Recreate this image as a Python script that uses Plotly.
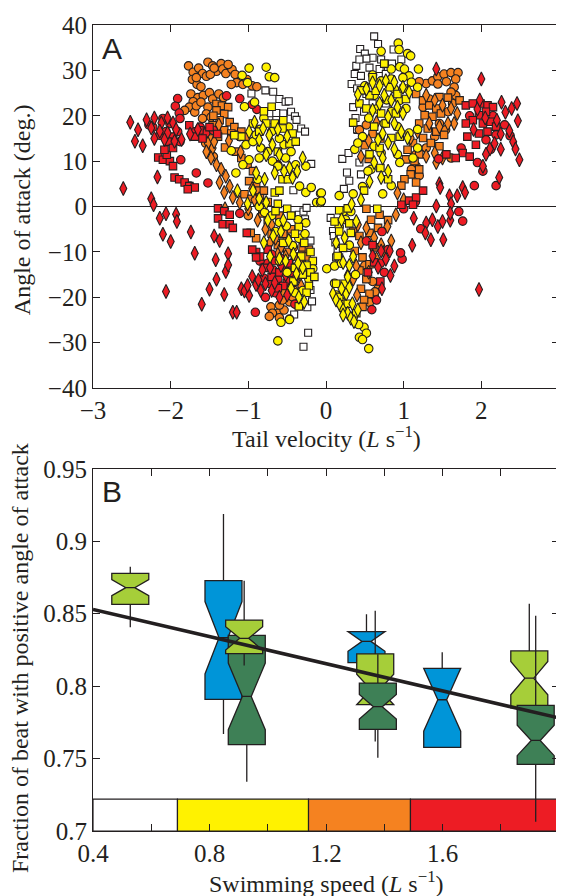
import plotly.graph_objects as go

# ================= Panel A data: (tail velocity [L/s], angle of attack [deg]) =================
W_SQ = [(-0.96,24.9),(-0.78,25.6),(-0.68,25.3),(-0.60,23.7),(-0.52,23.1),(-0.48,23.2),(-0.45,20.9),(-0.40,19.9),
        (-0.38,19.1),(-0.32,17.2),(-0.27,16.5),(-0.19,9.4),(-0.64,20.6),(-0.73,19.0),(-0.55,20.5),(-0.42,3.6),
        (-0.35,-1.8),(-0.29,-1.1),(-0.25,-0.3),(-0.27,-2.8),(-0.24,-22.2),(-0.18,-20.9),(-0.20,-18.4),(-0.23,-27.8),
        (-0.29,-30.9),(-0.41,-23.8),(-0.22,-12.0),(-0.20,-7.5),
        (0.62,37.5),(0.67,35.8),(0.44,34.7),(0.50,33.7),(0.60,32.8),(0.52,32.6),(0.39,31.0),(0.37,29.2),(0.45,28.8),
        (0.43,32.4),(0.56,30.6),(0.71,32.4),(0.87,34.6),(0.97,32.4),(0.80,30.6),(0.69,30.3),(0.77,29.2),(0.52,24.8),
        (0.60,22.7),(0.49,20.9),(0.35,21.9),(0.41,16.9),(0.21,10.5),(0.29,11.8),(0.27,7.5),(0.30,5.7),(0.23,3.9),
        (0.45,7.1),(0.43,9.7),(0.77,22.7),(0.06,-2.5),(0.09,-5.4),(0.10,-6.5),(0.12,-7.9),(0.15,-9.8),(0.13,-11.2),
        (0.30,-9.1),(0.33,27.0),(0.40,26.0),(0.85,31.5),(0.38,19.5),(0.40,17.0),(0.17,-11.2)]

Y_CI = [(-0.99,30.5),(-0.77,30.7),(-1.08,28.9),(-0.73,28.6),(-0.66,28.4),(-1.01,27.3),(-0.92,23.0),(-1.05,22.0),
        (-1.22,12.3),(-1.11,15.4),(-1.03,13.6),(-0.94,14.3),(-0.84,12.9),(-0.75,12.1),(-0.86,10.7),(-0.69,10.0),
        (-0.99,10.3),(-1.07,9.2),(-0.62,8.9),(-0.52,10.7),(-0.39,9.2),(-0.26,8.9),(-0.34,4.5),(-0.26,3.1),(-0.19,4.2),
        (-0.07,2.9),(-0.12,0.9),(-0.07,0.9),(-0.88,6.0),(-1.16,7.4),(-0.54,13.6),(-0.45,12.1),(-0.60,15.0),(-0.86,0.0),
        (-0.79,-1.3),(-0.60,-3.5),(-0.51,-4.3),(-0.36,-2.9),(-0.26,-3.6),(-0.43,-8.6),(-0.17,-13.7),(-0.47,-24.9),
        (-0.62,-29.6),(-0.70,-2.0),(-0.65,-5.5),(-0.35,-7.0),(-0.27,-6.0),(-0.22,-16.0),(-0.30,-18.5),(0.01,-13.7),
        (-0.85,17.0),(-0.90,15.8),(-0.70,16.5),(-0.80,19.5),(-0.48,17.5),(-0.60,-12.0),(-0.50,-14.5),(-0.40,-19.0),
        (-0.58,-25.5),
        (0.93,36.0),(0.94,34.6),(1.05,33.7),(1.09,33.2),(1.19,30.3),(0.95,30.8),(1.01,30.3),(1.07,28.8),(0.84,30.3),
        (0.71,34.2),(0.50,26.6),(0.71,27.7),(0.84,28.1),(0.99,28.4),(1.10,27.4),(1.18,26.3),(0.88,25.9),(0.62,24.5),
        (0.95,23.4),(1.03,21.6),(0.84,20.9),(0.75,18.3),(0.92,17.6),(1.07,16.2),(1.18,17.0),(0.47,15.4),(0.37,12.6),
        (0.62,13.3),(0.71,11.8),(0.92,11.5),(0.95,9.7),(1.12,10.7),(0.84,4.6),(0.35,2.8),(0.17,2.4),(-0.06,3.0),
        (-0.06,1.2),(0.47,4.4),(0.73,2.8),(0.58,8.2),(0.54,7.8),(1.18,12.9),(0.41,14.0),(0.11,-13.1),(0.11,-16.9),
        (0.22,-1.1),(0.49,-26.6),(0.52,-27.9),(0.43,-28.8),(0.47,-29.3),(0.55,-31.3),(0.25,-2.9),(0.32,-1.1),
        (0.17,-4.4),(0.13,-19.5),(0.20,-21.0),(0.35,-24.5),(0.42,-26.0),(0.30,-8.5),(0.20,-12.5),(0.38,-15.0),
        (0.65,21.5),(0.55,19.5),(0.78,23.5),(0.60,29.0)]

Y_SQ = [(-0.66,18.3),(-0.56,17.2),(-0.43,16.1),(-0.47,13.9),(-0.39,14.3),(-0.77,18.3),(-0.86,16.5),(-0.94,18.3),
        (-1.09,15.4),(-1.18,15.7),(-0.62,12.1),(-0.56,6.0),(-0.49,6.0),(-0.66,3.1),(-0.60,3.5),(-0.62,0.6),(-0.50,-0.5),
        (-0.45,-2.0),(-0.35,-4.5),(-0.28,-8.0),(-0.20,-10.0),(-0.17,-12.0),(-0.25,-13.0),(-0.20,-14.5),(-0.15,-15.5),
        (-0.30,-15.0),(-0.22,-17.5),(-0.25,-19.0),(-0.40,-6.0),(-0.55,-8.0),(-0.32,-11.0),(-0.42,-16.5),(-0.65,-1.0),
        (-0.35,-22.0),(-0.80,21.0),(-0.70,22.0),(-0.55,19.0),(-0.40,-13.5),
        (0.45,25.6),(0.56,24.5),(0.64,25.5),(0.82,26.3),(0.92,24.8),(1.03,23.7),(0.43,22.7),(0.52,21.6),(0.71,20.5),
        (0.90,20.5),(0.77,18.3),(0.62,17.6),(0.95,15.4),(0.84,15.1),(0.69,12.9),(0.56,11.5),(0.49,3.5),(0.13,-17.0),
        (0.24,-17.0),(0.28,-21.4),(0.39,-23.5),(0.17,-19.9),(0.17,-0.8),(0.28,-0.4),(0.11,-3.3),(0.30,-3.7),
        (0.17,-5.5),(0.32,-5.8),(0.22,-9.1),(0.15,-10.9),(0.70,8.5),(0.80,6.0),(0.35,18.5),(0.60,28.5),(0.75,31.5),
        (1.00,26.0),(0.66,-0.5)]

Y_DI = [(-0.92,18.6),(-0.81,17.2),(-0.73,15.7),(-0.99,16.5),(-0.86,14.7),(-0.69,13.6),(-0.77,11.4),(-0.60,11.4),
        (-0.47,8.5),(-0.37,7.8),(-0.30,10.7),(-0.54,7.8),(-0.43,6.4),(-0.66,7.4),(-0.79,6.0),(-0.90,7.4),(-1.14,3.5),
        (-0.94,3.5),(-0.86,1.7),(-1.01,0.6),(-0.77,0.9),(-0.75,-3.0),(-0.68,-6.5),(-0.55,-3.0),(-0.48,-7.5),
        (-0.42,-10.5),(-0.36,-12.5),(-0.30,-13.5),(-0.38,-14.8),(-0.45,-18.0),(-0.35,-20.0),(-0.28,-21.0),
        (-0.52,-12.0),(-0.60,-11.5),(-0.72,-11.0),(-0.80,-8.0),(-0.58,-5.5),(-0.50,15.5),(-0.62,17.0),
        (0.41,24.7),(0.52,25.9),(0.60,27.3),(0.69,26.6),(0.77,27.7),(0.88,27.4),(0.99,26.3),(1.07,25.2),(0.75,24.5),
        (0.84,23.4),(0.92,21.9),(0.99,20.5),(0.69,22.7),(0.60,21.2),(0.80,19.8),(0.88,18.3),(0.97,16.5),(1.05,15.1),
        (0.73,16.1),(0.67,14.7),(0.80,14.0),(0.88,12.6),(0.73,10.7),(0.62,9.7),(0.80,7.8),(0.71,6.4),(0.56,5.5),
        (0.09,-19.2),(0.13,-20.6),(0.18,-21.7),(0.22,-22.8),(0.28,-23.5),(0.32,-24.6),(0.36,-25.3),(0.34,-21.4),
        (0.26,-19.2),(0.20,-18.1),(0.30,-17.8),(0.22,-23.9),(0.41,-22.8),(0.20,-2.9),(0.39,-3.3),(0.24,-6.9),
        (0.13,-8.0),(0.22,-12.3),(0.30,-13.0),(0.35,-11.0),(0.28,-15.5),(0.33,0.5),(0.45,1.5)]

O_CI = [(-1.77,31.0),(-1.71,29.6),(-1.72,28.0),(-1.64,30.5),(-1.59,29.3),(-1.52,31.8),(-1.46,31.0),(-1.41,29.8),
        (-1.35,31.5),(-1.33,30.3),(-1.29,29.3),(-1.21,30.2),(-1.17,29.1),(-1.15,27.3),(-1.07,26.9),(-1.02,28.0),
        (-0.95,26.6),(-0.89,26.4),(-1.22,26.9),(-1.66,26.9),(-1.61,26.4),(-1.54,28.7),(-1.49,29.1),(-1.44,30.5),
        (-1.26,31.3),(-1.67,28.4),(-1.74,24.8),(-1.65,24.0),(-1.58,24.5),(-1.50,25.1),(-1.46,23.7),(-1.38,24.8),
        (-1.32,24.0),(-1.71,23.1),(-1.76,21.9),(-1.69,20.8),(-1.82,21.2),(-1.67,22.2),(-1.61,23.0),(-1.52,21.9),
        (-1.54,20.4),(-1.59,19.4),(-1.48,19.7),(-0.71,-22.1),(-0.62,-23.5),(-0.54,-22.8),(-0.60,-21.7),(-0.47,-21.0),
        (-0.49,-19.2),(-0.52,-17.7),(-0.43,-19.9),(-0.41,-18.5),(-0.56,-20.6),(-0.69,-23.5),(-0.73,-24.2),
        (-0.60,-24.5),(-0.47,-24.8),(-0.30,-10.0),(-0.42,-9.0),(-0.50,-7.0),(-1.55,14.0),(-1.45,11.0),(-1.00,-2.0),
        (1.29,27.1),(1.37,27.7),(1.44,28.6),(1.52,29.2),(1.61,29.5),(1.70,29.5),(1.67,28.1),(1.65,26.3),(1.67,24.5),
        (1.61,25.2),(1.63,22.7),(1.57,20.9),(1.44,27.0),(1.33,23.7),(1.25,21.9),(1.46,18.3),(1.54,16.9),(1.40,15.4),
        (1.29,12.9),(1.16,8.9),(1.10,8.2),(1.20,6.8),(1.61,10.7),(1.16,11.5),(0.62,-19.6),(0.67,-18.1),(0.56,-21.1),
        (0.63,-18.8),(0.43,16.9),(0.52,18.0),(0.60,-16.5),(0.50,-13.0),(1.55,27.5),(1.20,27.5)]

O_SQ = [(-1.41,22.6),(-1.34,22.2),(-1.26,21.9),(-1.41,21.2),(-1.31,20.4),(-1.37,19.0),(-1.24,18.6),(-1.18,17.5),
        (-1.46,17.9),(-1.31,16.8),(-1.22,16.1),(-1.09,16.5),(-1.39,15.4),(-1.50,15.0),(-1.03,15.4),(-1.16,12.1),
        (-1.09,10.7),(-1.01,9.2),(-0.94,7.8),(-0.99,5.6),(-0.90,4.5),(-0.86,3.5),(-1.05,2.7),(-0.96,1.7),(-0.88,0.9),
        (-0.30,-9.0),(-0.22,-9.5),(-0.25,-11.0),(-0.33,-12.0),(-0.40,-11.0),(-0.50,-10.0),(-0.62,-8.5),(-0.70,-6.0),
        (-0.55,-6.0),(-0.45,-5.0),(-0.75,-3.0),(-0.82,-1.5),(-0.90,-7.0),(-0.97,-5.8),(-0.35,-14.0),(-0.60,-2.0),
        (-0.85,2.0),(-0.75,1.0),(-0.80,3.5),(-0.54,-19.0),(-0.45,-16.0),(-0.65,-18.5),(-1.30,13.0),(-1.45,20.0),
        (-1.58,16.5),
        (1.16,24.8),(1.25,23.4),(1.33,22.3),(1.42,21.6),(1.27,20.1),(1.37,19.8),(1.48,20.5),(1.20,18.3),(1.31,17.2),
        (1.42,16.5),(1.52,15.8),(1.25,15.1),(1.35,14.0),(1.46,13.3),(1.12,14.0),(1.05,12.5),(1.20,11.5),(1.03,10.4),
        (1.14,10.0),(1.20,8.2),(1.09,7.1),(1.01,6.0),(0.97,4.6),(1.16,5.3),(1.72,23.4),(1.46,24.1),(0.35,-5.5),
        (0.43,-6.5),(0.37,-9.8),(0.47,-11.2),(0.56,-12.7),(0.43,-14.1),(0.52,-16.0),(0.45,-18.1),(0.56,-19.2),
        (0.49,-20.6),(0.47,-22.1),(0.56,-5.8),(0.67,-4.7),(0.69,-1.8),(0.58,-2.9),(0.60,16.0),(0.70,15.0),
        (0.50,13.5),(0.55,10.5),(0.62,-9.0),(0.52,-0.5),(0.80,-3.0),(1.57,24.0)]

O_DI = [(-1.56,16.1),(-1.52,13.9),(-1.46,12.9),(-1.48,10.7),(-1.41,9.2),(-1.35,8.2),(-1.29,6.7),(-1.37,5.3),
        (-1.24,4.5),(-1.31,3.1),(-1.20,2.0),(-1.11,0.9),(-1.54,12.1),(-1.44,14.3),(-0.78,-5.0),(-0.70,-4.0),
        (-0.65,-7.0),(-0.58,-9.0),(-0.52,-11.0),(-0.45,-13.0),(-0.38,-16.0),(-0.32,-17.5),(-0.88,-3.0),(-0.85,0.0),
        (-0.92,1.5),(-0.95,4.0),(-1.00,-0.5),(-0.62,-10.5),(-0.72,-8.0),(-1.38,18.0),(-1.25,14.5),(-1.10,12.0),
        (-1.30,-0.5),
        (1.29,24.5),(1.40,23.4),(1.50,22.3),(1.61,21.6),(1.65,18.3),(1.69,20.5),(1.57,18.3),(1.46,17.6),(1.33,18.3),
        (1.18,16.5),(1.09,15.1),(1.29,11.1),(1.40,11.8),(1.50,10.7),(1.42,9.7),(0.28,-15.2),(0.35,-16.0),
        (0.39,-13.1),(0.41,-4.0),(0.52,-4.7),(0.62,-6.9),(0.71,-8.4),(0.79,-4.4),(0.90,-1.8),(0.84,-7.6),
        (0.45,-8.0),(0.55,-14.5),(0.40,-19.5),(0.65,-11.5),(0.75,-10.0),(0.55,14.5),(0.65,18.5),(0.45,11.0),
        (0.92,3.0),(1.00,1.5)]

R_CI = [(-1.91,23.8),(-1.94,22.1),(-1.89,20.6),(-1.88,19.4),(-1.87,10.3),(-1.67,7.4),(-1.52,5.2),(-1.28,24.4),
        (-1.11,23.8),(-0.89,21.4),(-0.62,9.2),(-2.28,18.0),(-2.23,17.5),(-2.10,19.4),(-2.01,18.3),(-2.14,15.7),
        (-2.06,16.5),(-1.88,14.3),(-1.91,16.5),(-1.55,16.2),(-1.45,16.8),(-1.62,17.5),(-1.11,-1.5),(-0.91,-23.3),
        (-0.75,-12.5),(-0.68,-14.0),(-0.62,-16.0),(-0.72,-17.0),(-0.55,-13.5),(-0.80,-15.8),(-0.65,-19.0),
        (-0.58,-11.5),(-0.50,-16.5),(-0.45,-14.5),(-0.70,-10.5),(-0.85,-12.0),(-0.78,-20.0),(-0.40,-21.5),
        (-1.75,4.5),(-0.95,22.5),
        (1.22,-4.9),(1.76,-3.2),(1.71,-1.1),(0.98,-11.6),(0.96,-10.2),(0.59,-22.7),(0.65,-20.6),(0.52,-7.6),
        (2.06,14.7),(2.12,12.6),(1.95,9.7),(2.02,7.8),(2.19,4.6),(1.91,4.6),(2.19,15.8),(2.37,15.6),(1.74,12.9),
        (1.45,10.5),(1.85,20.0),(2.15,20.0),(2.30,18.0),(0.75,-14.5),(0.70,-12.5),(1.00,-0.5),(1.15,1.0),
        (0.72,-5.5),(0.80,-9.5)]

R_SQ = [(-2.16,10.8),(-2.10,10.3),(-2.01,10.0),(-1.97,8.9),(-2.05,11.4),(-1.95,6.4),(-1.89,6.0),(-1.82,5.3),
        (-1.76,4.5),(-1.69,4.2),(-1.78,3.8),(-1.71,16.6),(-1.63,16.8),(-1.69,15.4),(-1.59,15.0),(-1.76,17.9),
        (-1.97,15.4),(-2.04,14.3),(-1.97,12.9),(-2.08,12.5),(-1.39,-0.4),(-1.31,-1.0),(-1.24,-1.8),(-1.39,-2.6),
        (-1.33,-3.9),(-1.24,-3.9),(-1.20,-4.7),(-1.02,-5.8),(-0.90,-10.0),(-0.85,-11.0),(-0.75,-9.5),(-0.80,-13.5),
        (-0.66,-12.0),(-0.60,-14.5),(-0.70,-15.5),(-0.55,-17.5),(-0.48,-12.5),(-0.62,-18.0),(-0.95,-9.5),
        (-0.90,-11.2),(-1.50,17.5),(-1.40,16.0),
        (1.80,22.3),(1.89,22.7),(1.99,22.7),(2.08,22.3),(2.15,21.9),(2.06,20.9),(1.97,20.1),(1.89,19.0),(1.80,18.3),
        (2.02,18.3),(2.12,18.7),(2.19,17.6),(2.08,16.5),(1.97,16.1),(1.82,15.4),(1.93,13.6),(1.76,11.8),(1.67,10.7),
        (1.07,1.3),(1.16,2.0),(0.97,0.4),(1.12,0.4),(0.62,-12.3),(0.54,-14.5),(0.70,-16.5),(0.60,-8.5),(1.55,11.5),
        (1.85,11.0),(1.25,3.5)]

R_DI = [(-2.61,4.0),(-2.52,18.6),(-2.42,16.9),(-2.46,14.4),(-2.36,13.4),(-2.31,19.1),(-2.17,6.5),(-2.25,1.7),
        (-2.22,0.4),(-2.14,-2.6),(-2.06,-1.6),(-2.10,-6.1),(-2.00,-7.7),(-1.93,-1.7),(-1.92,-3.3),(-2.06,-18.7),
        (-1.74,-5.6),(-1.69,-10.3),(-1.60,-21.5),(-1.50,-18.2),(-1.42,-11.7),(-1.44,-6.5),(-1.37,-7.5),(-1.41,-16.0),
        (-1.31,-19.4),(-1.26,-10.4),(-1.29,-14.3),(-1.26,-12.9),(-1.20,-23.3),(-1.15,-23.3),(-1.09,-18.1),
        (-1.05,-18.6),(-0.99,-19.6),(-1.01,-17.4),(-0.95,-15.4),(-0.90,-17.2),(-0.87,-16.2),(-2.21,19.5),
        (-2.12,18.4),(-2.04,19.5),(-1.97,18.4),(-2.25,17.3),(-2.14,16.6),(-2.04,16.2),(-1.93,17.0),(-2.21,15.0),
        (-2.08,14.8),(-1.95,14.4),(-1.86,14.8),(-0.78,-17.0),(-0.70,-18.5),(-0.60,-20.0),(-0.66,-16.8),(-0.52,-15.0),
        (-0.58,-13.0),(-0.72,-13.5),(-0.82,-14.0),(-0.45,-17.5),(-0.50,-19.5),(-0.84,-18.5),(-0.40,-16.0),
        (-1.75,16.0),(-1.65,17.0),
        (1.42,30.3),(2.00,28.1),(2.26,23.0),(2.46,22.7),(2.39,21.6),(2.31,20.8),(2.47,18.9),(2.36,16.7),(2.41,14.3),
        (2.44,12.7),(2.49,10.3),(2.25,12.6),(2.17,13.9),(2.11,12.7),(2.06,11.5),(2.02,8.9),(2.23,6.4),(1.46,5.0),
        (1.47,4.2),(1.59,2.4),(1.42,0.1),(1.76,4.2),(1.79,3.1),(1.69,2.4),(1.61,0.6),(1.13,-2.6),(1.29,-3.6),
        (1.37,-2.9),(1.44,-4.4),(1.50,-3.3),(1.60,-3.0),(1.60,-1.5),(1.28,-5.8),(1.35,-7.3),(1.51,-7.3),(1.11,-8.5),
        (0.82,-9.8),(0.88,-13.1),(0.83,-15.2),(0.72,-18.1),(1.97,-18.3),(0.67,-13.4),(0.77,-11.6),(0.60,-10.9),
        (0.71,-9.8),(1.95,21.5),(2.05,19.5),(2.20,19.0),(1.90,17.0),(2.25,16.0),(1.98,23.5)]

# ================= Panel B data =================
SPEED_BIN_EDGES = [0.4, 0.69, 1.14, 1.49, 2.0]
SPEED_BIN_COLORS = ["#FFFFFF", "#FFF200", "#F58220", "#ED1C24"]
SPEED_BAR_BASE = 0.7
SPEED_BAR_HEIGHT = 0.022

FIT_X = [0.4, 2.0]
FIT_Y = [0.853, 0.778]

# light green fish
LG_POS = [0.528, 0.919, 1.369, 1.898]
LG_Q1 = [0.8565, 0.8225, 0.7872, 0.785]
LG_MED = [0.868, 0.833, 0.7977, 0.8055]
LG_Q3 = [0.8778, 0.8456, 0.8223, 0.8243]
LG_LO = [0.8406, 0.8143, 0.7618, 0.770]
LG_HI = [0.8825, 0.8728, 0.852, 0.8569]
LG_NOTCH = [0.0055, 0.008, 0.0105, 0.0115]

# blue fish
BL_POS = [0.848, 1.339, 1.599]
BL_Q1 = [0.7908, 0.8162, 0.7577]
BL_MED = [0.8334, 0.8309, 0.7906]
BL_Q3 = [0.8728, 0.8377, 0.8123]
BL_LO = [0.767, 0.810, 0.7577]
BL_HI = [0.9188, 0.8497, 0.8234]
BL_NOTCH = [0.025, 0.0068, 0.0217]

# dark green fish
DG_POS = [0.928, 1.378, 1.92]
DG_Q1 = [0.7596, 0.7702, 0.746]
DG_MED = [0.7929, 0.7858, 0.7625]
DG_Q3 = [0.835, 0.8021, 0.7867]
DG_LO = [0.734, 0.7505, 0.7063]
DG_HI = [0.845, 0.822, 0.8486]
DG_NOTCH = [0.023, 0.0085, 0.0105]

X_TICKS_A = [-3, -2, -1, 0, 1, 2, 3]
Y_TICKS_A = [-40, -30, -20, -10, 0, 10, 20, 30, 40]
X_TICKS_B = [0.4, 0.8, 1.2, 1.6, 2.0]
X_TICKTEXT_B = ["0.4", "0.8", "1.2", "1.6", "2"]
X_MINOR_B = [0.6, 1.0, 1.4, 1.8]
Y_TICKS_B = [0.7, 0.75, 0.8, 0.85, 0.9, 0.95]
Y_TICKTEXT_B = ["0.7", "0.75", "0.8", "0.85", "0.9", "0.95"]

EDGE = "#231f20"
YEL, ORA, RED, WHT = "#FFF200", "#F58220", "#ED1C24", "#FFFFFF"
C_LG, C_BL, C_DG = "#A6CE39", "#0095D8", "#3E8056"

SERIF = "Liberation Serif"
SANS = "Liberation Sans"

fig = go.Figure()


def add_group(pts, color, symbol, size):
    fig.add_trace(go.Scatter(
        x=[p[0] for p in pts], y=[p[1] for p in pts], mode="markers",
        xaxis="x", yaxis="y", hoverinfo="skip", showlegend=False,
        marker=dict(color=color, symbol=symbol, size=size, line=dict(color=EDGE, width=1.1))))


add_group(W_SQ, WHT, "square", 7)
add_group(O_CI, ORA, "circle", 8.5)
add_group(O_SQ, ORA, "square", 7.5)
add_group(O_DI, ORA, "diamond-tall", 10)
add_group(R_CI, RED, "circle", 8.5)
add_group(R_SQ, RED, "square", 7.5)
add_group(R_DI, RED, "diamond-tall", 10)
add_group(Y_CI, YEL, "circle", 8.5)
add_group(Y_SQ, YEL, "square", 7.5)
add_group(Y_DI, YEL, "diamond-tall", 10)

# ---- Panel B: speed colour bar ----
centers = [(a + b) / 2 for a, b in zip(SPEED_BIN_EDGES[:-1], SPEED_BIN_EDGES[1:])]
widths = [b - a for a, b in zip(SPEED_BIN_EDGES[:-1], SPEED_BIN_EDGES[1:])]
fig.add_trace(go.Bar(x=centers, y=[SPEED_BAR_HEIGHT] * len(centers), base=SPEED_BAR_BASE, width=widths,
                     marker=dict(color=SPEED_BIN_COLORS, line=dict(color=EDGE, width=1.2)),
                     xaxis="x2", yaxis="y2", showlegend=False, hoverinfo="skip"))

# ---- regression line ----
fig.add_trace(go.Scatter(x=FIT_X, y=FIT_Y, mode="lines", line=dict(color=EDGE, width=3.5),
                         xaxis="x2", yaxis="y2", showlegend=False, hoverinfo="skip"))


def add_boxes(idx, pos, q1, med, q3, lo, hi, notch, color):
    fig.add_trace(go.Box(
        x=[pos[i] for i in idx], q1=[q1[i] for i in idx], median=[med[i] for i in idx],
        q3=[q3[i] for i in idx], lowerfence=[lo[i] for i in idx], upperfence=[hi[i] for i in idx],
        notchspan=[notch[i] for i in idx], notched=True, notchwidth=0.38, width=0.127,
        whiskerwidth=0, boxpoints=False, fillcolor=color, line=dict(color=EDGE, width=1.3),
        xaxis="x2", yaxis="y2", showlegend=False, hoverinfo="skip"))


add_boxes([0, 1, 2], BL_POS, BL_Q1, BL_MED, BL_Q3, BL_LO, BL_HI, BL_NOTCH, C_BL)
add_boxes([2, 3], LG_POS, LG_Q1, LG_MED, LG_Q3, LG_LO, LG_HI, LG_NOTCH, C_LG)
add_boxes([0, 1, 2], DG_POS, DG_Q1, DG_MED, DG_Q3, DG_LO, DG_HI, DG_NOTCH, C_DG)
add_boxes([0, 1], LG_POS, LG_Q1, LG_MED, LG_Q3, LG_LO, LG_HI, LG_NOTCH, C_LG)

tickfont = dict(family=SERIF, size=25, color=EDGE)
common = dict(showline=True, linecolor=EDGE, linewidth=1.2, mirror="ticks", ticks="inside", ticklen=7,
              tickwidth=1.1, tickcolor=EDGE, showgrid=False, tickfont=tickfont, fixedrange=True,
              zeroline=False)

# The page body has an 8 px margin, so the figure is 8 px smaller and margins are shifted.
W, H = 556, 888
fig.update_layout(
    width=W, height=H, margin=dict(l=85, r=4, t=4, b=65),
    paper_bgcolor="white", plot_bgcolor="white", showlegend=False,
    boxmode="overlay", barmode="overlay",
    font=dict(family=SERIF, color=EDGE),
    xaxis=dict(domain=[0, 1], anchor="y", range=[-3, 3], tickmode="array", tickvals=X_TICKS_A, **common),
    yaxis=dict(domain=[0.5495, 1], anchor="x", range=[-40, 40], tickmode="array", tickvals=Y_TICKS_A,
               **{**common, "zeroline": True}, zerolinecolor=EDGE, zerolinewidth=1.2),
    xaxis2=dict(domain=[0, 1], anchor="y2", range=[0.4, 2.0], tickmode="array",
                tickvals=X_TICKS_B, ticktext=X_TICKTEXT_B,
                minor=dict(tickmode="array", tickvals=X_MINOR_B, ticks="inside", ticklen=7,
                           tickcolor=EDGE, tickwidth=1.1, showgrid=False), **common),
    yaxis2=dict(domain=[0, 0.4493], anchor="x2", range=[0.7, 0.95], tickmode="array",
                tickvals=Y_TICKS_B, ticktext=Y_TICKTEXT_B, **common),
)

title_font = dict(family=SERIF, size=24, color=EDGE)
ann = [
    dict(text="Angle of attack (deg.)", x=-0.152, y=0.7705, textangle=-90),
    dict(text="Tail velocity (<i>L</i> s<sup>−1</sup>)", x=0.5, y=0.4884),
    dict(text="Fraction of beat with positive angle of attack", x=-0.158, y=0.215, textangle=-90),
    dict(text="Swimming speed (<i>L</i> s<sup>−1</sup>)", x=0.5, y=-0.0635),
]
for a in ann:
    fig.add_annotation(xref="paper", yref="paper", showarrow=False, xanchor="center", yanchor="middle",
                       font=title_font, **a)
for lab, yy in (("A", 0.9707), ("B", 0.4212)):
    fig.add_annotation(text=lab, xref="paper", yref="paper", x=0.0407, y=yy, showarrow=False,
                       xanchor="center", yanchor="middle", font=dict(family=SANS, size=30, color=EDGE))

fig.write_html("out.html")
